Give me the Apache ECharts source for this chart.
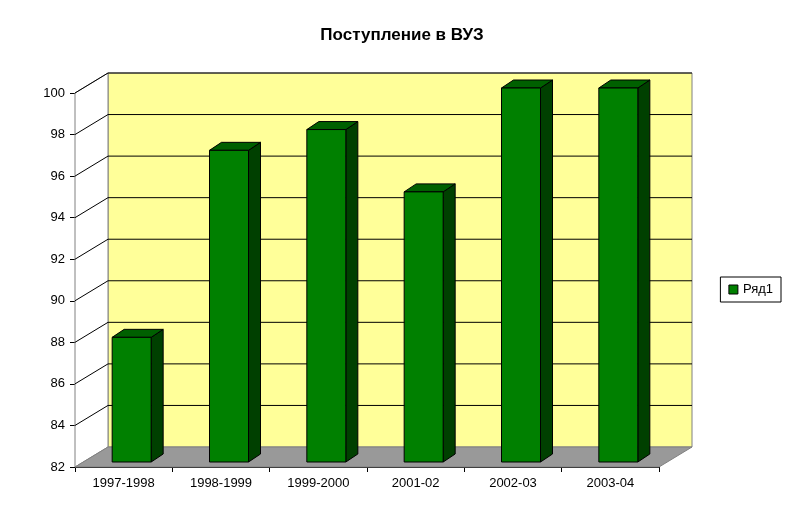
<!DOCTYPE html>
<html><head><meta charset="utf-8">
<script src="https://cdn.jsdelivr.net/npm/echarts@6/dist/echarts.min.js"></script>
<style>html,body{margin:0;padding:0;background:#fff}#c{width:794px;height:519px}</style>
</head><body><div id="c"></div>
<script>
const categories = ['1997-1998','1998-1999','1999-2000','2001-02','2002-03','2003-04'];
const values = [88, 97, 98, 95, 100, 100];
const yTicks = [82,84,86,88,90,92,94,96,98,100];
const DX = 33, DY = -20;

const chart = echarts.init(document.getElementById('c'));
function wallItem(params, api) {
  const cs = params.coordSys;
  const L = cs.x, R = cs.x + cs.width, B = cs.y + cs.height;
  const topY = api.coord([0, 100])[1];
  const children = [];
  // back wall
  children.push({type:'polygon', shape:{points:[[L+DX,topY+DY],[R+DX,topY+DY],[R+DX,B+DY],[L+DX,B+DY]]},
    style:{fill:'#FFFF99', stroke:'#808080', lineWidth:1}});
  // left wall
  children.push({type:'polygon', shape:{points:[[L,topY],[L+DX,topY+DY],[L+DX,B+DY],[L,B]]},
    style:{fill:'#FFFFFF', stroke:'#808080', lineWidth:1}});
  // floor
  children.push({type:'polygon', shape:{points:[[L,B],[R,B],[R+DX,B+DY],[L+DX,B+DY]]},
    style:{fill:'#999999', stroke:'#808080', lineWidth:1}});
  yTicks.forEach(t => {
    if (t === 82) return;
    const y = api.coord([0, t])[1];
    children.push({type:'polyline', shape:{points:[[L,y],[L+DX,y+DY],[R+DX,y+DY]]},
      style:{stroke:'#000', lineWidth:1, fill:null}});
  });
  return {type:'group', children};
}
function barItem(params, api) {
  const idx = api.value(0), v = api.value(1);
  const p = api.coord([idx, v]), b = api.coord([idx, 82]);
  const cx = p[0] + 8, w = 39, l = cx - w/2, r = cx + w/2;
  const t = p[1] - 5, bt = b[1] - 5;
  const dx = 12, dy = -8;
  const st = {stroke:'#000', lineWidth:1};
  return {type:'group', children:[
    {type:'polygon', shape:{points:[[r,t],[r+dx,t+dy],[r+dx,bt+dy],[r,bt]]}, style:Object.assign({fill:'#004000'},st)},
    {type:'polygon', shape:{points:[[l,t],[l+dx,t+dy],[r+dx,t+dy],[r,t]]}, style:Object.assign({fill:'#006000'},st)},
    {type:'rect', shape:{x:l, y:t, width:w, height:bt-t}, style:Object.assign({fill:'#008000'},st)}
  ]};
}
chart.setOption({
  animation:false,
  title:{text:'Поступление в ВУЗ', left:397, top:22, textAlign:'center',
    textStyle:{fontFamily:'Liberation Sans', fontSize:17, fontWeight:'bold', color:'#000'}},
  legend:{right:13, top:277, orient:'vertical', itemWidth:9, itemHeight:9, padding:[6,8],
    borderColor:'#000', borderWidth:1, backgroundColor:'#fff',
    textStyle:{fontFamily:'Liberation Sans', fontSize:13, color:'#000'},
    data:[{name:'Ряд1', icon:'rect', itemStyle:{color:'#008000', borderColor:'#000', borderWidth:1}}]},
  grid:{left:75, right:135, top:93, bottom:52},
  xAxis:{type:'category', data:categories, boundaryGap:true,
    axisLine:{lineStyle:{color:'#000'}}, axisTick:{show:true, length:5, lineStyle:{color:'#000'}},
    axisLabel:{color:'#000', fontFamily:'Liberation Sans', fontSize:13, margin:10}},
  yAxis:{type:'value', min:82, max:100, interval:2,
    axisLine:{show:true, lineStyle:{color:'#000'}}, axisTick:{show:true, length:5, lineStyle:{color:'#000'}},
    splitLine:{show:false},
    axisLabel:{color:'#000', fontFamily:'Liberation Sans', fontSize:13, margin:10}},
  series:[
    {type:'custom', name:'walls', data:[[0,100]], renderItem:wallItem, z:1, silent:true},
    {type:'custom', name:'Ряд1', data:values.map((v,i)=>[i,v]), renderItem:barItem, z:2,
      itemStyle:{color:'#008000'}}
  ]
});
</script></body></html>
